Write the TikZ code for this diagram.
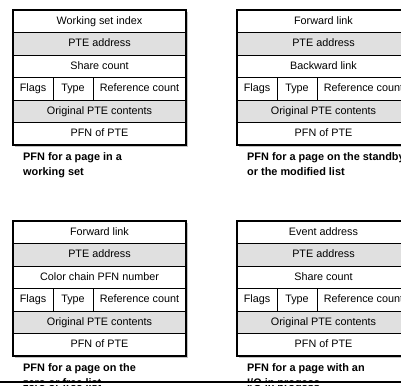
\documentclass[tikz,border=0pt]{standalone}
\usepackage{fontspec}
\setmainfont{Liberation Sans}
\usetikzlibrary{positioning}
\definecolor{rowgray}{RGB}{224,224,224}
\definecolor{shadowgray}{RGB}{195,195,195}
\begin{document}
\begin{tikzpicture}[x=1pt,y=-1pt,
    field/.style={draw,fill=white,line width=0.7pt,minimum height=22.5pt,inner sep=0pt,outer sep=0pt,
        text height=7.8pt,text depth=2.2pt,font=\fontsize{10.8}{12}\selectfont},
    wide field/.style={field,minimum width=173pt},
    shaded/.style={fill=rowgray},
    box border/.style={line width=1.3pt},
    caption/.style={font=\fontsize{10.9}{15}\selectfont\bfseries,align=left,inner sep=0pt,anchor=north west}]
    \useasboundingbox (0,0) rectangle (401,385);
    \foreach \n/\px/\py/\first/\third/\cap in {
        ws/13/10/Working set index/Share count/{PFN for a page in a\\working set},
        sb/237/10/Forward link/Backward link/{PFN for a page on the standby\\or the modified list},
        zf/13/221/Forward link/Color chain PFN number/{PFN for a page on the\\zero or free list},
        io/237/221/Event address/Share count/{PFN for a page with an\\I{/}O in progess}}
    {
        \fill[shadowgray] (\px+2,\py+2) rectangle +(173,135);
        \node[wide field,anchor=north west] (\n-1) at (\px,\py) {\first};
        \node[wide field,shaded,below=0pt of \n-1] (\n-2) {PTE address};
        \node[wide field,below=0pt of \n-2] (\n-3) {\third};
        \node[field,minimum width=40pt,anchor=north west] (\n-4a) at (\n-3.south west) {Flags};
        \node[field,minimum width=40pt,right=0pt of \n-4a] (\n-4b) {Type};
        \node[field,minimum width=93pt,right=0pt of \n-4b] (\n-4c) {Reference count};
        \node[wide field,shaded,anchor=north west] (\n-5) at (\n-4a.south west) {Original PTE contents};
        \node[wide field,below=0pt of \n-5] (\n-6) {PFN of PTE};
        \draw[box border] (\n-1.north west) rectangle (\n-6.south east);
        \node[caption] (\n-cap) at ([xshift=10pt,yshift=-7pt]\n-6.south west) {\cap};
    }
    % rule along the lower edge
    \fill[white] (0,381) rectangle (401,385);
    \draw[line width=2pt] (0,382) -- (401,382);
\end{tikzpicture}
\end{document}
